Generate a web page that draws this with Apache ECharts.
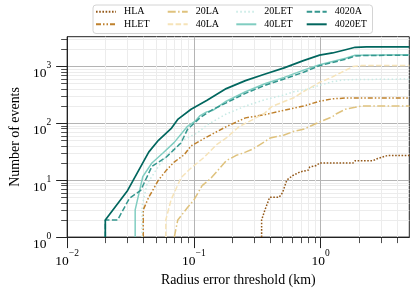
<!DOCTYPE html>
<html><head><meta charset="utf-8">
<script src="https://cdn.jsdelivr.net/npm/echarts@6/dist/echarts.min.js"></script>
<style>html,body{margin:0;padding:0;background:#fff}#c{width:415px;height:292px}</style>
</head><body><div id="c"></div>
<script>
// ---- data ----
const seriesNames = ['HLA','HLET','20LA','40LA','20LET','40LET','4020A','4020ET'];
const HLA = [[0.342,1],[0.342,2],[0.363,3],[0.396,5],[0.47,5],[0.5,6],[0.54,10],[0.6,12],[0.69,14],[0.8,15],[0.82,17],[0.92,18],[0.98,20],[1.8,20],[1.87,22],[2.58,22],[2.82,24],[3.17,26],[3.36,27],[5,27]];
const HLET = [[0.0398,1],[0.0398,3],[0.044,5],[0.0525,10],[0.0607,15],[0.0703,21],[0.0839,28],[0.095,40],[0.126,57],[0.18,87],[0.255,124],[0.362,141],[0.515,169],[0.733,200],[0.98,243],[1.24,268],[1.57,276],[5,276]];
const LA20 = [[0.07,1],[0.0746,2],[0.089,3.3],[0.1,4.5],[0.116,8],[0.134,10.4],[0.151,14],[0.18,22],[0.214,27],[0.255,31],[0.29,35],[0.36,47],[0.4,55],[0.515,62],[0.615,72],[0.73,78],[0.98,105],[1.24,130],[1.32,145],[1.57,176],[1.87,190],[2.1,200],[5,200]];
const LA40 = [[0.06,1],[0.06,2],[0.066,4.5],[0.079,11],[0.094,16],[0.12,25],[0.151,42],[0.18,55],[0.227,87],[0.3,120],[0.362,150],[0.41,195],[0.515,240],[0.615,280],[0.733,360],[0.98,520],[1.24,650],[1.57,850],[1.8,990],[2.1,1030],[5,1030]];
const LET20 = [[0.039,1],[0.039,3.5],[0.0427,8.6],[0.0525,17.4],[0.0625,29],[0.084,52],[0.106,67],[0.126,92],[0.18,145],[0.255,200],[0.362,258],[0.515,313],[0.615,357],[0.733,380],[0.98,461],[1.24,537],[1.57,580],[5,597]];
const LET40 = [[0.0344,1],[0.0344,3],[0.0395,11.5],[0.0466,20],[0.057,30],[0.07,46],[0.089,88],[0.103,110],[0.112,136],[0.126,158],[0.142,169],[0.18,243],[0.255,357],[0.362,492],[0.515,637],[0.733,853],[0.98,1064],[1.57,1377],[1.87,1564],[5,1585]];
const A4020 = [[0.02,1],[0.02,2],[0.025,2],[0.031,4.8],[0.038,6.6],[0.0466,17.4],[0.0607,25.5],[0.079,45],[0.089,78],[0.112,125],[0.142,176],[0.18,227],[0.255,334],[0.362,461],[0.515,597],[0.733,785],[0.98,1024],[1.24,1162],[1.57,1325],[1.87,1506],[2.2,1546],[5,1560]];
const ET4020 = [[0.02,1],[0.02,2],[0.03,6.6],[0.044,31],[0.0525,50],[0.066,80],[0.075,118],[0.095,176],[0.126,250],[0.18,405],[0.255,559],[0.36,723],[0.515,937],[0.73,1256],[0.98,1564],[1.24,1710],[1.57,1950],[1.87,2150],[2.3,2190],[5,2190]];
const xTickExponents = [-2,-1,0];
const yTickExponents = [0,1,2,3];
const xAxisTitle = 'Radius error threshold (km)';
const yAxisTitle = 'Number of events';

// ---- styling ----
const seriesData = {'HLA':HLA,'HLET':HLET,'20LA':LA20,'40LA':LA40,'20LET':LET20,'40LET':LET40,'4020A':A4020,'4020ET':ET4020};
const colors = {'HLA':'#94591a','HLET':'#bf812d','20LA':'#dfc27d','40LA':'#f6e3b8','20LET':'#c7eae5','40LET':'#80cdc1','4020A':'#35978f','4020ET':'#01665e'};
const dashes = {'HLA':[1.6,1.6],'HLET':[5,2,1.5,2,1.5,2],'20LA':[8,2.4,1.5,2.4],'40LA':[5.5,2.4],'20LET':[1.5,2.5],'40LET':'solid','4020A':[5.5,2.4],'4020ET':'solid'};
const serif = "'Liberation Serif', serif";

const xTickValues = xTickExponents.map(e=>Math.pow(10,e));
const yTickValues = yTickExponents.map(e=>Math.pow(10,e));
function powLabel(v, exps){
  const l = Math.log10(v), e = Math.round(l);
  if (Math.abs(l - e) > 1e-6 || exps.indexOf(e) < 0) return '';
  return '{b|10}{s|' + (e < 0 ? '\u2212' + (-e) : String(e)) + '}';
}
const rich = {
  b:{fontFamily:serif,fontSize:13.5,lineHeight:20,verticalAlign:'bottom',color:'#000'},
  s:{fontFamily:serif,fontSize:9.5,lineHeight:11,verticalAlign:'top',color:'#000'}
};
const legendLeft = [95,166.7,235.3,305.7];
const legendTop = [6.7,19.3];

const chart = echarts.init(document.getElementById('c'), null, {renderer:'canvas', width:415, height:292});
chart.setOption({
  animation:false,
  backgroundColor:'#fff',
  grid:{left:55.7, right:5.7, top:36.7, bottom:46.3, show:true, borderColor:'#222', borderWidth:1, backgroundColor:'transparent'},
  graphic:[{type:'rect', left:92.5, top:4.5, z:0, shape:{width:279.5, height:28.5, r:3}, style:{fill:'#fff', stroke:'#d4d4d4', lineWidth:1}}],
  legend: seriesNames.map((n,i)=>({
    data:[n], left:legendLeft[Math.floor(i/2)], top:legendTop[i%2], padding:0,
    itemWidth:20, itemHeight:10, selectedMode:false, z:5,
    itemStyle:{opacity:0},
    textStyle:{fontFamily:serif, fontSize:10, color:'#000', padding:[0,0,0,3]}
  })),
  xAxis:{
    type:'log', logBase:10, min:0.01, max:5,
    name:xAxisTitle, nameLocation:'middle', nameGap:31,
    nameTextStyle:{fontFamily:serif, fontSize:13.9, color:'#000'},
    axisLine:{show:true, onZero:false, lineStyle:{color:'#222', width:1}},
    axisTick:{show:true, length:11, customValues:xTickValues, lineStyle:{color:'#222', width:1}},
    minorTick:{show:true, splitNumber:9, length:6, lineStyle:{color:'#222', width:0.8}},
    splitLine:{show:true, lineStyle:{color:'#b4b4b4', width:1}},
    minorSplitLine:{show:true, lineStyle:{color:'#ececec', width:1}},
    axisLabel:{margin:11, customValues:xTickValues, formatter:v=>powLabel(v,xTickExponents), rich:rich}
  },
  yAxis:{
    type:'log', logBase:10, min:1, max:3300,
    name:yAxisTitle, nameLocation:'middle', nameGap:43,
    nameTextStyle:{fontFamily:serif, fontSize:13.9, color:'#000'},
    axisLine:{show:true, onZero:false, lineStyle:{color:'#222', width:1}},
    axisTick:{show:true, length:11, customValues:yTickValues, lineStyle:{color:'#222', width:1}},
    minorTick:{show:true, splitNumber:9, length:6, lineStyle:{color:'#222', width:0.8}},
    splitLine:{show:true, lineStyle:{color:'#b4b4b4', width:1}},
    minorSplitLine:{show:true, lineStyle:{color:'#ececec', width:1}},
    axisLabel:{margin:16, padding:[8,0,0,0], customValues:yTickValues, formatter:v=>powLabel(v,yTickExponents), rich:rich}
  },
  series: seriesNames.map(n=>({
    name:n, type:'line', data:seriesData[n], symbol:'none', showSymbol:false,
    lineStyle:{color:colors[n], width:(n==='4020ET'?1.7:1.5), type:dashes[n], cap:'butt'},
    itemStyle:{color:colors[n]},
    emphasis:{disabled:true}, z:(2+seriesNames.indexOf(n))
  }))
});
</script></body></html>
